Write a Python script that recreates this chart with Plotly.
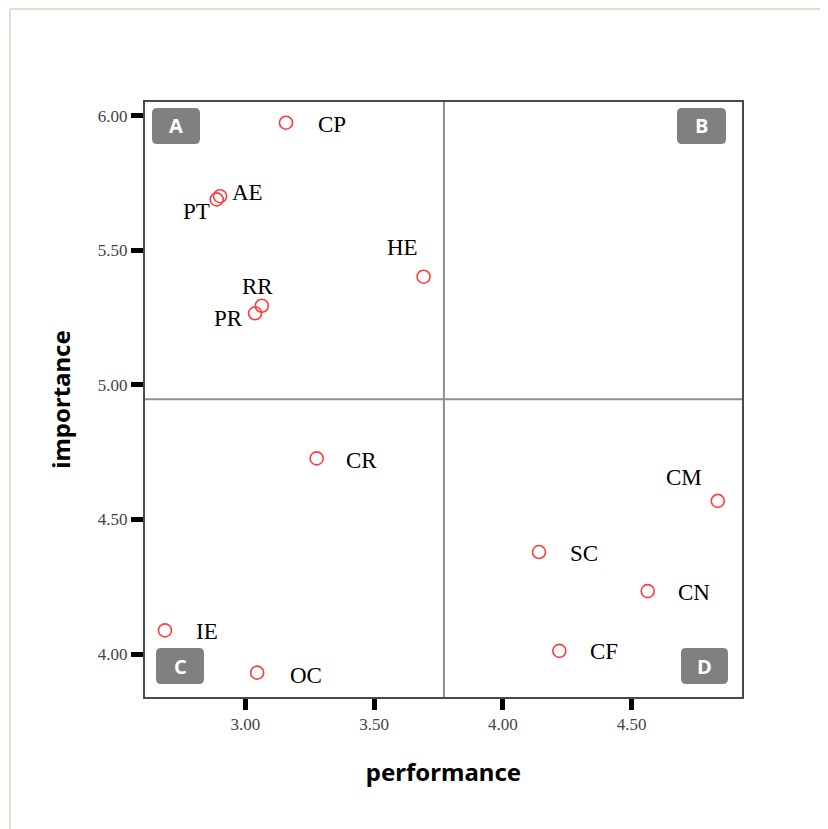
import plotly.graph_objects as go

# ---- data ----
codes = ["CP", "AE", "PT", "HE", "RR", "PR", "CR", "CM", "SC", "CN", "CF", "IE", "OC"]
performance = [3.158, 2.902, 2.889, 3.692, 3.064, 3.038, 3.277, 4.834, 4.140, 4.562, 4.219, 2.688, 3.046]
importance = [5.974, 5.701, 5.689, 5.402, 5.294, 5.266, 4.727, 4.569, 4.379, 4.234, 4.012, 4.088, 3.931]
perf_ref = 3.771
imp_ref = 4.947
x_ticks = [3.0, 3.5, 4.0, 4.5]
y_ticks = [4.0, 4.5, 5.0, 5.5, 6.0]
quadrants = ["A", "B", "C", "D"]

# ---- style / layout ----
OFF = 8  # page body margin
W, H = 820, 821
L, R, T, B = 145 - OFF, 742 - OFF, 102 - OFF, 697 - OFF  # plot box in figure pixels
label_offsets = {  # pixel shifts (dx right, dy down)
    "CP": (46, 2), "AE": (27, -4), "PT": (-20, 12), "HE": (-21, -29),
    "RR": (-4, -19), "PR": (-27, 5), "CR": (45, 2), "CM": (-34, -23),
    "SC": (45, 1), "CN": (46, 1), "CF": (45, 1), "IE": (42, 1), "OC": (49, 3),
}
badge_boxes = {  # screenshot pixel boxes x0, y0, x1, y1
    "A": (152, 108, 200, 144), "B": (677, 108, 726, 144),
    "C": (156, 648, 204, 684), "D": (681, 648, 728, 684),
}


def px2paper(px, py):
    px -= OFF
    py -= OFF
    return (px - L) / (R - L), (B - py) / (B - T)


def rounded_path(x0, y0, x1, y1, r=5):
    def P(px, py):
        a, b = px2paper(px, py)
        return f"{a:.5f},{b:.5f}"
    return (f"M {P(x0 + r, y0)} L {P(x1 - r, y0)} Q {P(x1, y0)} {P(x1, y0 + r)} "
            f"L {P(x1, y1 - r)} Q {P(x1, y1)} {P(x1 - r, y1)} "
            f"L {P(x0 + r, y1)} Q {P(x0, y1)} {P(x0, y1 - r)} "
            f"L {P(x0, y0 + r)} Q {P(x0, y0)} {P(x0 + r, y0)} Z")


fig = go.Figure()
fig.add_trace(go.Scatter(
    x=performance, y=importance, mode="markers",
    marker=dict(symbol="circle-open", size=13, color="#ff3b3b", line=dict(width=1.6, color="#ff3b3b")),
    hoverinfo="skip", showlegend=False,
))

annotations = []
for c, xv, yv in zip(codes, performance, importance):
    dx, dy = label_offsets[c]
    annotations.append(dict(
        x=xv, y=yv, xref="x", yref="y", text=c, showarrow=False,
        xshift=dx, yshift=-dy, xanchor="center", yanchor="middle",
        font=dict(family="Liberation Serif", size=23, color="black"),
    ))

shapes = []
# outer beige frame (top and left edges)
fx0, fy0 = px2paper(10, 9)
fx1, fy1 = px2paper(828, 829)
shapes.append(dict(type="line", xref="paper", yref="paper", x0=fx0, y0=fy0, x1=fx1, y1=fy0,
                   line=dict(color="#e2ddcc", width=2), layer="below"))
shapes.append(dict(type="line", xref="paper", yref="paper", x0=fx0, y0=fy0, x1=fx0, y1=fy1,
                   line=dict(color="#e2ddcc", width=2), layer="below"))
# quadrant dividers
shapes.append(dict(type="line", xref="x", yref="paper", x0=perf_ref, x1=perf_ref, y0=0, y1=1,
                   line=dict(color="#8e8e8e", width=2)))
shapes.append(dict(type="line", xref="paper", yref="y", x0=0, x1=1, y0=imp_ref, y1=imp_ref,
                   line=dict(color="#8e8e8e", width=2)))
# quadrant badges
for q in quadrants:
    x0, y0, x1, y1 = badge_boxes[q]
    shapes.append(dict(type="path", xref="paper", yref="paper", path=rounded_path(x0, y0, x1, y1),
                       fillcolor="#808080", line=dict(width=0)))
    cx, cy = px2paper((x0 + x1) / 2, (y0 + y1) / 2)
    annotations.append(dict(x=cx, y=cy, xref="paper", yref="paper", text=f"<b>{q}</b>",
                            xanchor="center", yanchor="middle",
                            showarrow=False, font=dict(family="Open Sans", size=20, color="white")))

tickfont = dict(family="Liberation Serif", size=17, color="#444444")
titlefont = dict(family="Noto Sans", size=24, color="black", weight="bold")

fig.update_layout(
    width=W, height=H,
    margin=dict(l=L, r=W - R, t=T, b=H - B),
    paper_bgcolor="white", plot_bgcolor="white",
    shapes=shapes, annotations=annotations,
    xaxis=dict(
        range=[2.6106, 4.928], tickvals=x_ticks, ticktext=[f"{v:.2f}" for v in x_ticks],
        ticks="outside", ticklen=11, tickwidth=5, tickcolor="black",
        showgrid=False, zeroline=False, showline=True, linecolor="#4a4a4a", linewidth=2, mirror=True,
        tickfont=tickfont,
        title=dict(text="performance", font=titlefont, standoff=31),
    ),
    yaxis=dict(
        range=[3.8406, 6.0509], tickvals=y_ticks, ticktext=[f"{v:.2f}" for v in y_ticks],
        ticks="outside", ticklen=12, tickwidth=5, tickcolor="black",
        showgrid=False, zeroline=False, showline=True, linecolor="#4a4a4a", linewidth=2, mirror=True,
        tickfont=tickfont,
        title=dict(text="importance", font=titlefont, standoff=20),
    ),
)

fig.write_html("out.html")
